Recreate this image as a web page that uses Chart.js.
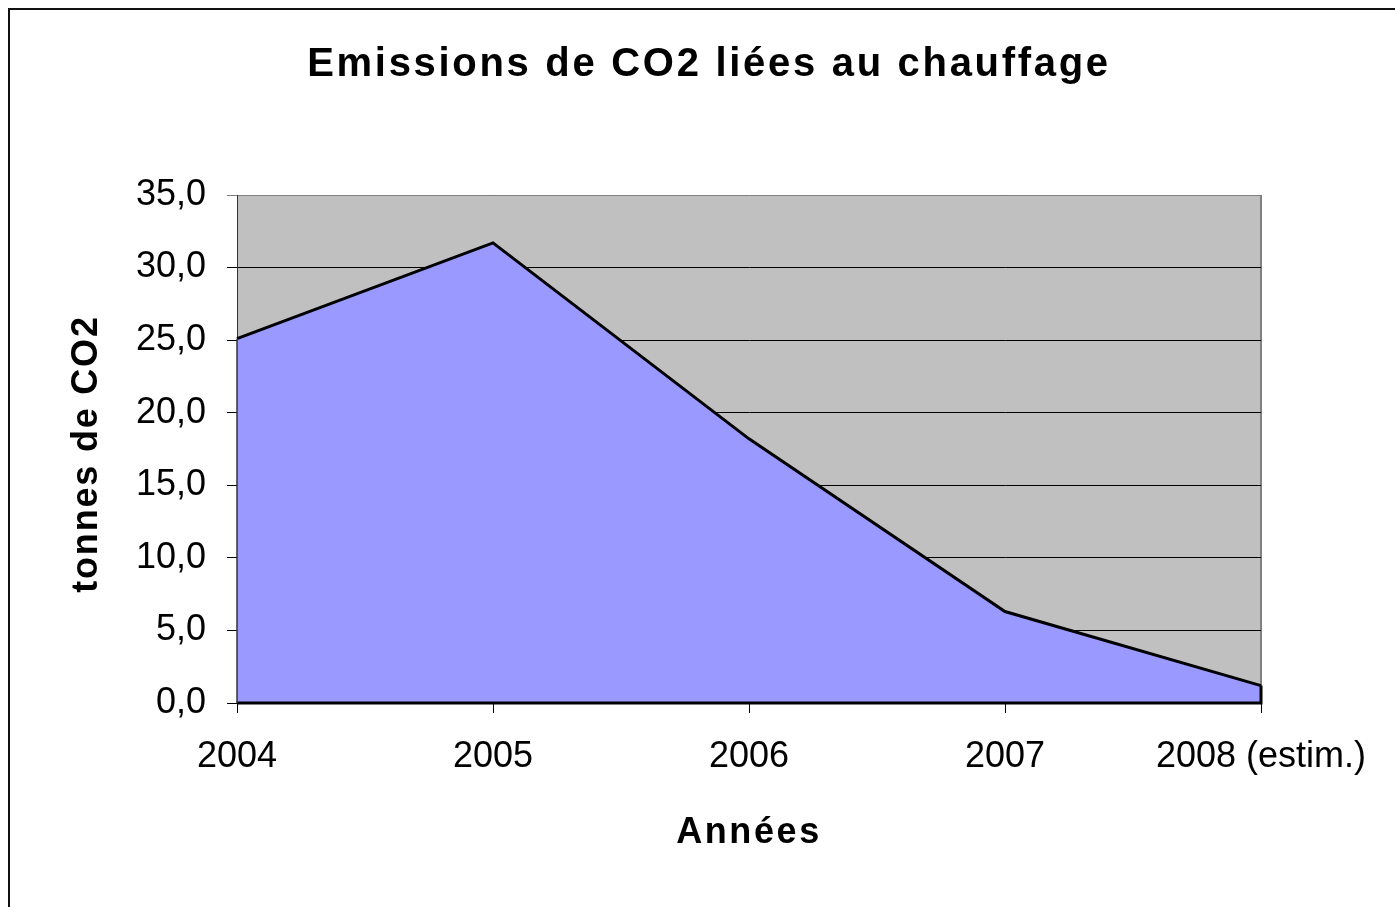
<!DOCTYPE html>
<html>
<head>
<meta charset="utf-8">
<script src="https://cdn.jsdelivr.net/npm/chart.js@4"></script>
<style>
  body { margin: 0; background: #fff; }
  canvas { display: block; }
</style>
</head>
<body>
<canvas id="myChart" width="1395" height="907"></canvas>
<script>
const years = ['2004', '2005', '2006', '2007', '2008 (estim.)'];
const emissions = [25.1, 31.7, 18.2, 6.3, 1.2];
const yTicks = [0, 5, 10, 15, 20, 25, 30, 35];

const titleText = 'Emissions de CO2 liées au chauffage';
const xTitle = 'Années';
const yTitle = 'tonnes de CO2';

const FONT = '"Liberation Sans", Arial, sans-serif';
Chart.defaults.font.family = FONT;
Chart.defaults.color = '#000';

// grey plot background, frame, titles and the closed outline of the area
const decor = {
  id: 'decor',
  beforeDraw(chart) {
    const { ctx, chartArea: a } = chart;
    ctx.save();
    ctx.fillStyle = '#fff';
    ctx.fillRect(0, 0, chart.width, chart.height);
    ctx.strokeStyle = '#111';
    ctx.lineWidth = 2;
    ctx.strokeRect(9, 9, 3000, 3000);
    ctx.fillStyle = '#c0c0c0';
    ctx.fillRect(a.left, a.top, a.right - a.left, a.bottom - a.top);
    ctx.strokeStyle = '#808080';
    ctx.lineWidth = 2;
    ctx.beginPath();
    ctx.moveTo(a.right, a.top);
    ctx.lineTo(a.right, a.bottom);
    ctx.stroke();

    ctx.fillStyle = '#000';
    ctx.textAlign = 'center';
    ctx.textBaseline = 'alphabetic';
    ctx.font = 'bold 40px ' + FONT;
    ctx.letterSpacing = '2.7px';
    ctx.fillText(titleText, 709, 76);
    ctx.font = 'bold 36px ' + FONT;
    ctx.letterSpacing = '2.6px';
    ctx.fillText(xTitle, (a.left + a.right) / 2, 843);
    ctx.letterSpacing = '1.8px';
    ctx.translate(97, (a.top + a.bottom) / 2 + 5);
    ctx.rotate(-Math.PI / 2);
    ctx.fillText(yTitle, 0, 0);
    ctx.restore();
  },
  afterDatasetsDraw(chart) {
    const { ctx, chartArea: a } = chart;
    const pts = chart.getDatasetMeta(0).data;
    const first = pts[0], last = pts[pts.length - 1];
    ctx.save();
    ctx.strokeStyle = '#000';
    ctx.lineWidth = 3;
    ctx.beginPath();
    ctx.moveTo(last.x, last.y);
    ctx.lineTo(last.x, a.bottom);
    ctx.lineTo(first.x, a.bottom);
    ctx.stroke();
    ctx.strokeStyle = '#333';
    ctx.lineWidth = 1.5;
    ctx.beginPath();
    ctx.moveTo(first.x, a.bottom);
    ctx.lineTo(first.x, first.y);
    ctx.stroke();
    ctx.restore();
  }
};

const data = {
  labels: years,
  datasets: [{
    label: 'tonnes de CO2',
    data: emissions,
    fill: 'origin',
    backgroundColor: '#9999ff',
    borderColor: '#000',
    borderWidth: 3,
    tension: 0,
    pointRadius: 0,
    clip: 3,
  }]
};

const config = {
  type: 'line',
  data: data,
  options: {
    responsive: false,
    animation: false,
    layout: {
      padding: { top: 195, right: 134, left: 0, bottom: 0 },
    },
    plugins: {
      legend: { display: false },
      title: { display: false },
      tooltip: { enabled: false },
    },
    scales: {
      x: {
        offset: false,
        grid: {
          drawOnChartArea: false,
          drawTicks: true,
          tickLength: 10,
          color: '#000',
          offset: false,
        },
        border: { color: '#000', width: 1 },
        ticks: {
          font: { size: 36 },
          padding: 22,
          maxRotation: 0,
          autoSkip: false,
        },
        afterFit: (scale) => { scale.height = 204; },
      },
      y: {
        min: 0,
        max: 35,
        afterBuildTicks: (scale) => {
          scale.ticks = yTicks.map((v) => ({ value: v }));
        },
        grid: {
          color: (ctx) => (ctx.tick && ctx.tick.value === 35 ? '#808080' : '#000'),
          lineWidth: 1,
          drawTicks: true,
          tickLength: 10,
        },
        border: { color: '#333', width: 1 },
        ticks: {
          font: { size: 36 },
          padding: 21,
          callback: (v) => v.toFixed(1).replace('.', ','),
        },
        afterFit: (scale) => { scale.width = 237; },
      },
    },
  },
  plugins: [decor],
};

const myChart = new Chart(
  document.getElementById('myChart'),
  config
);
</script>
</body>
</html>
